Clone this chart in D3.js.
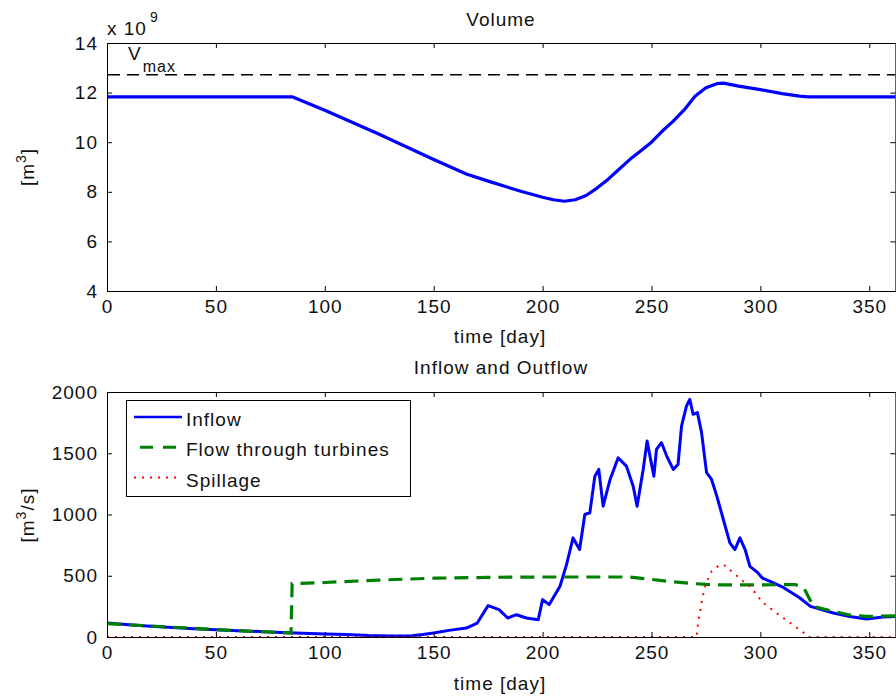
<!DOCTYPE html>
<html>
<head>
<meta charset="utf-8">
<script src="https://cdn.jsdelivr.net/npm/d3@7"></script>
<style>
  body { margin: 0; background: #fff; }
  svg { display: block; font-family: "Liberation Sans", Arial, Helvetica, sans-serif; }
  text { fill: #111; letter-spacing: 1px; }
</style>
</head>
<body>
<div id="chart"></div>
<script>
// ---- data ----
const xTicks = [0, 50, 100, 150, 200, 250, 300, 350];
const volTicks = [4, 6, 8, 10, 12, 14];
const flowTicks = [0, 500, 1000, 1500, 2000];

// volume in units of 1e9 m3
const volDays = [0, 85, 100, 125, 150, 165, 175, 190, 200, 205, 210, 215, 220, 225, 230, 235, 240, 245, 250, 255, 260, 265, 270, 275, 280, 283, 290, 300, 310, 318, 322, 362];
const volValues = [11.83, 11.83, 11.29, 10.32, 9.3, 8.72, 8.43, 8.02, 7.78, 7.68, 7.62, 7.68, 7.85, 8.15, 8.5, 8.9, 9.3, 9.65, 10.0, 10.45, 10.85, 11.3, 11.85, 12.2, 12.36, 12.38, 12.26, 12.12, 11.96, 11.86, 11.83, 11.83];
const vMax = 12.72;

const inflowDays = [0, 10, 20, 30, 40, 50, 60, 70, 80, 90, 100, 110, 120, 130, 140, 145, 150, 157, 165, 170, 175, 180, 184, 188, 192.6, 198, 200, 203, 208, 211, 214, 217, 219.4, 221.7, 224, 225.8, 227.8, 231, 234.7, 238.5, 241.6, 243.4, 246.2, 248, 249.6, 251.1, 252.3, 254.6, 257, 260, 262.2, 263.8, 266.1, 267.6, 269.1, 271.1, 273, 275.3, 277.6, 280, 283, 286, 288.3, 290.6, 293, 295.2, 298.5, 301, 305, 310, 318, 323, 333.5, 341, 348.8, 356.4, 362];
const inflowValues = [115, 100, 88, 78, 68, 60, 52, 44, 36, 30, 25, 20, 12, 8, 10, 20, 33, 54, 73, 114, 256, 223, 155, 182, 155, 141, 305, 264, 414, 591, 809, 714, 1000, 1014, 1313, 1368, 1068, 1286, 1463, 1395, 1231, 1068, 1368, 1600, 1450, 1313, 1532, 1586, 1477, 1368, 1409, 1722, 1886, 1940, 1818, 1832, 1668, 1341, 1286, 1150, 959, 769, 714, 809, 714, 577, 530, 480, 450, 410, 320, 250, 196, 168, 147, 163, 168];

const turbineDays = [0, 20, 40, 60, 84.5, 85, 100, 125, 150, 175, 200, 225, 240, 250, 260, 270, 280, 290, 300, 316, 320, 322, 324.3, 333.5, 341, 348.8, 355, 362];
const turbineValues = [110, 90, 70, 52, 33, 436, 445, 465, 480, 487, 490, 490, 490, 470, 450, 435, 425, 425, 425, 428, 400, 330, 250, 209, 180, 168, 170, 172];

const spillDays = [0, 270.7, 271.4, 273, 274.5, 277.6, 281.4, 283.7, 286.8, 292.1, 295.2, 301.3, 310.5, 319.7, 322, 362];
const spillValues = [0, 0, 114, 278, 414, 536, 591, 583, 536, 455, 414, 278, 155, 38, 0, 0];

const legendLabels = ["Inflow", "Flow through turbines", "Spillage"];

// ---- layout ----
const width = 896, height = 698;
const fontSize = 19;

const svg = d3.select("#chart").append("svg")
    .attr("width", width)
    .attr("height", height);

const x = d3.scaleLinear().domain([0, 362]).range([107, 895.4]);
const yVol = d3.scaleLinear().domain([4, 14]).range([291, 43]);
const yFlow = d3.scaleLinear().domain([0, 2000]).range([637, 392]);

function styleAxis(g) {
    g.attr("font-size", fontSize).attr("font-family", null);
    g.selectAll("path, line").attr("stroke", "#000");
}

function drawFrame(y, yTickVals, top, bottom) {
    svg.append("g")
        .attr("transform", `translate(0,${bottom})`)
        .call(d3.axisBottom(x).tickValues(xTicks).tickFormat(d3.format("d"))
            .tickSizeInner(-5).tickSizeOuter(0).tickPadding(9))
        .call(styleAxis);
    svg.append("g")
        .attr("transform", `translate(0,${top})`)
        .call(d3.axisTop(x).tickValues(xTicks).tickSizeInner(-5).tickSizeOuter(0).tickFormat(""))
        .call(styleAxis);
    svg.append("g")
        .attr("transform", `translate(${x.range()[0]},0)`)
        .call(d3.axisLeft(y).tickValues(yTickVals).tickFormat(d3.format("d"))
            .tickSizeInner(-5).tickSizeOuter(0).tickPadding(9))
        .call(styleAxis);
    svg.append("g")
        .attr("transform", `translate(${x.range()[1]},0)`)
        .call(d3.axisRight(y).tickValues(yTickVals).tickSizeInner(-5).tickSizeOuter(0).tickFormat(""))
        .call(styleAxis);
}

// clip areas
const defs = svg.append("defs");
defs.append("clipPath").attr("id", "clipTop").append("rect")
    .attr("x", x.range()[0]).attr("y", yVol.range()[1])
    .attr("width", x.range()[1] - x.range()[0]).attr("height", yVol.range()[0] - yVol.range()[1]);
defs.append("clipPath").attr("id", "clipBottom").append("rect")
    .attr("x", x.range()[0]).attr("y", yFlow.range()[1] - 2)
    .attr("width", x.range()[1] - x.range()[0]).attr("height", yFlow.range()[0] - yFlow.range()[1] + 2);

// ---- top: Volume ----
const topPlot = svg.append("g").attr("clip-path", "url(#clipTop)");

topPlot.append("line")
    .attr("x1", x(0) + 1).attr("x2", x(362))
    .attr("y1", yVol(vMax)).attr("y2", yVol(vMax))
    .attr("stroke", "#000").attr("stroke-width", 1.3)
    .attr("stroke-dasharray", "12,7");

const volLine = d3.line()
    .x((d, i) => x(volDays[i]))
    .y(d => yVol(d));

topPlot.append("path")
    .datum(volValues)
    .attr("d", volLine)
    .attr("fill", "none")
    .attr("stroke", "#0000ff")
    .attr("stroke-width", 3.2)
    .attr("stroke-linejoin", "round");

drawFrame(yVol, volTicks, 43, 291);

svg.append("text").attr("x", 501).attr("y", 26).attr("text-anchor", "middle")
    .attr("font-size", fontSize).text("Volume");

const expLabel = svg.append("text").attr("x", 107).attr("y", 35).attr("font-size", fontSize);
expLabel.append("tspan").text("x 10");
expLabel.append("tspan").attr("dy", -13).attr("dx", 3).attr("font-size", 14).text("9");

const vmaxLabel = svg.append("text").attr("x", 128).attr("y", 60).attr("font-size", fontSize);
vmaxLabel.append("tspan").text("V");
vmaxLabel.append("tspan").attr("dy", 12).attr("dx", 1).attr("font-size", 16).text("max");

svg.append("text").attr("x", 500).attr("y", 343).attr("text-anchor", "middle")
    .attr("font-size", fontSize).text("time [day]");

const volYLabel = svg.append("text")
    .attr("transform", "translate(34,167) rotate(-90)")
    .attr("text-anchor", "middle")
    .attr("font-size", fontSize);
volYLabel.append("tspan").text("[m");
volYLabel.append("tspan").attr("dy", -8).attr("font-size", 14).text("3");
volYLabel.append("tspan").attr("dy", 8).text("]");

// ---- bottom: Inflow and Outflow ----
const bottomPlot = svg.append("g").attr("clip-path", "url(#clipBottom)");

function flowLine(days) {
    return d3.line()
        .x((d, i) => x(days[i]))
        .y(d => yFlow(d));
}

bottomPlot.append("path")
    .datum(inflowValues)
    .attr("d", flowLine(inflowDays))
    .attr("fill", "none")
    .attr("stroke", "#0000ff")
    .attr("stroke-width", 3)
    .attr("stroke-linejoin", "round");

bottomPlot.append("path")
    .datum(turbineValues)
    .attr("d", flowLine(turbineDays))
    .attr("fill", "none")
    .attr("stroke", "#008000")
    .attr("stroke-width", 3.2)
    .attr("stroke-dasharray", "14,8");

bottomPlot.append("path")
    .datum(spillValues)
    .attr("d", flowLine(spillDays))
    .attr("fill", "none")
    .attr("stroke", "#ff0000")
    .attr("stroke-width", 2)
    .attr("stroke-dasharray", "2,6");

drawFrame(yFlow, flowTicks, 392, 637);

svg.append("text").attr("x", 501).attr("y", 374).attr("text-anchor", "middle")
    .attr("font-size", fontSize).text("Inflow and Outflow");

svg.append("text").attr("x", 500).attr("y", 690).attr("text-anchor", "middle")
    .attr("font-size", fontSize).text("time [day]");

const flowYLabel = svg.append("text")
    .attr("transform", "translate(34,515) rotate(-90)")
    .attr("text-anchor", "middle")
    .attr("font-size", fontSize);
flowYLabel.append("tspan").text("[m");
flowYLabel.append("tspan").attr("dy", -8).attr("font-size", 14).text("3");
flowYLabel.append("tspan").attr("dy", 8).text("/s]");

// legend
const legend = svg.append("g");
legend.append("rect")
    .attr("x", 126.5).attr("y", 400.5)
    .attr("width", 284).attr("height", 96)
    .attr("fill", "#fff").attr("stroke", "#000").attr("stroke-width", 1);

const legendStyles = [
    { color: "#0000ff", dash: null, w: 2.5, x1: 134, x2: 182 },
    { color: "#008000", dash: "13,10", w: 3, x1: 140, x2: 179 },
    { color: "#ff0000", dash: "2,6", w: 2, x1: 134, x2: 182 }
];

legendLabels.forEach((label, i) => {
    const yBase = 426 + i * 30.3;
    const s = legendStyles[i];
    legend.append("line")
        .attr("x1", s.x1).attr("x2", s.x2)
        .attr("y1", yBase - 9).attr("y2", yBase - 9)
        .attr("stroke", s.color).attr("stroke-width", s.w)
        .attr("stroke-dasharray", s.dash);
    legend.append("text")
        .attr("x", 186).attr("y", yBase)
        .attr("font-size", fontSize)
        .text(label);
});
</script>
</body>
</html>
